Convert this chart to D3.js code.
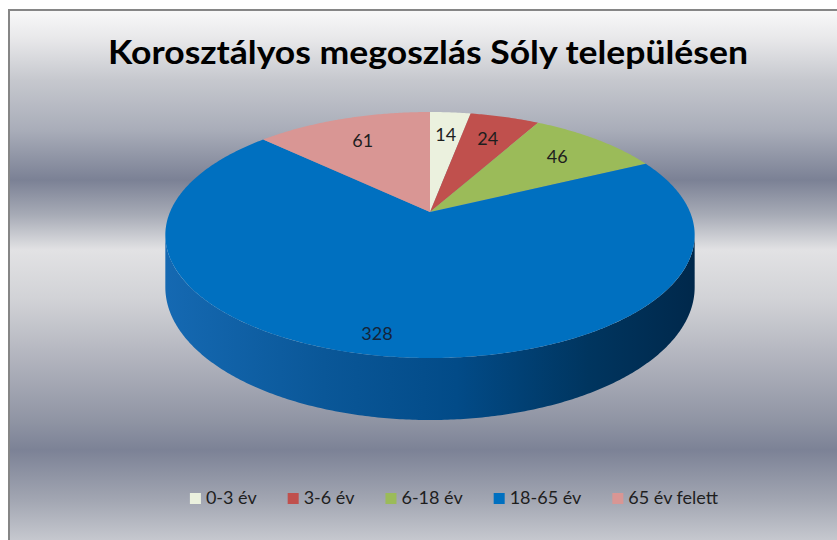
<!DOCTYPE html>
<html>
<head>
<meta charset="utf-8">
<script src="https://cdn.jsdelivr.net/npm/d3@7"></script>
<style>
  html, body { margin: 0; padding: 0; background: #fff; }
  svg { display: block; }
</style>
</head>
<body>
<div class="chart"></div>
<script>
// data
const categories = ['0-3 év', '3-6 év', '6-18 év', '18-65 év', '65 év felett'];
const values = [14, 24, 46, 328, 61];
const colors = ['#EBF1DE', '#C0504D', '#9BBB59', '#0070C0', '#D99694'];
const title = 'Korosztályos megoszlás Sóly településen';

const W = 837, H = 540;
const svg = d3.select('.chart').append('svg')
    .attr('width', W)
    .attr('height', H);

const defs = svg.append('defs');

// silver background, horizontal bands
const bg = defs.append('linearGradient')
    .attr('id', 'bg')
    .attr('gradientUnits', 'userSpaceOnUse')
    .attr('x1', 0).attr('y1', 10).attr('x2', 0).attr('y2', 545);
[[10, '#f9f9f9'], [40, '#e7e7e9'], [80, '#c6c8ce'], [130, '#a9adb9'], [180, '#7b8195'],
 [215, '#a7abb6'], [250, '#e2e2e4'], [300, '#d1d2d6'], [350, '#b6b8c1'], [420, '#9095a4'],
 [450, '#7c8296'], [500, '#a2a6b2'], [545, '#caccd2']]
    .forEach(([y, c]) => bg.append('stop').attr('offset', (y - 10) / 535).attr('stop-color', c));

// side wall shading, light on the left, dark on the right
const side = defs.append('linearGradient')
    .attr('id', 'side')
    .attr('gradientUnits', 'userSpaceOnUse')
    .attr('x1', 165).attr('y1', 0).attr('x2', 695).attr('y2', 0);
[[0, '#1569b2'], [0.3, '#0a5798'], [0.55, '#024b88'], [0.8, '#00355f'], [1, '#00284b']]
    .forEach(([o, c]) => side.append('stop').attr('offset', o).attr('stop-color', c));

svg.append('rect')
    .attr('x', 9).attr('y', 10)
    .attr('width', W + 10).attr('height', H + 10)
    .attr('fill', 'url(#bg)')
    .attr('stroke', '#868686')
    .attr('stroke-width', 2);

svg.append('text')
    .attr('x', 428).attr('y', 64)
    .attr('text-anchor', 'middle')
    .attr('font-family', 'Lato, "Open Sans", sans-serif')
    .attr('font-weight', 'bold')
    .attr('font-size', 33)
    .attr('textLength', 640)
    .attr('lengthAdjust', 'spacingAndGlyphs')
    .attr('fill', '#000')
    .text(title);

// perspective projection of the pie disc
const cx = 430, cy = 212, A = 260, B = 118.7, k = 0.187, depth = 50.4;
const proj = (theta, r, h) => {
    const u = r * Math.sin(theta), t = r * Math.cos(theta);
    const w = 1 + k * t;
    return [cx + A * u / w, cy + (-B * t + depth * h) / w];
};
const arcPoints = (a0, a1, h) => {
    const n = Math.max(2, Math.ceil(Math.abs(a1 - a0) / 0.01));
    return d3.range(n + 1).map(i => proj(a0 + (a1 - a0) * i / n, 1, h));
};
const line = d3.line();

const pie = d3.pie().sort(null).value(d => d)(values);

// outer wall, only the part that faces the viewer
const wallFrom = Math.PI / 2 + Math.asin(k), wallTo = 3 * Math.PI / 2 - Math.asin(k);
const gWall = svg.append('g');
pie.forEach((p, i) => {
    const a0 = Math.max(p.startAngle, wallFrom), a1 = Math.min(p.endAngle, wallTo);
    if (a1 <= a0) return;
    const pts = arcPoints(a0, a1, 0).concat(arcPoints(a1, a0, 1));
    gWall.append('path')
        .attr('d', line(pts) + 'Z')
        .attr('fill', i === 3 ? 'url(#side)' : d3.color(colors[i]).darker(0.8));
});

// top face
svg.append('g')
    .selectAll('path')
    .data(pie)
    .join('path')
    .attr('d', p => line([proj(0, 0, 0)].concat(arcPoints(p.startAngle, p.endAngle, 0))) + 'Z')
    .attr('fill', (p, i) => colors[i]);

// data labels
svg.append('g')
    .selectAll('text')
    .data(pie)
    .join('text')
    .attr('transform', p => {
        const mid = (p.startAngle + p.endAngle) / 2;
        const f = p.endAngle - p.startAngle > Math.PI ? 0.87 : 0.74;
        const [x, y] = proj(mid, f, 0);
        return `translate(${x - (f > 0.8 ? 12 : 0)},${y})`;
    })
    .attr('text-anchor', 'middle')
    .attr('dy', '0.35em')
    .attr('font-family', 'Lato, "Open Sans", sans-serif')
    .attr('font-size', 18)
    .attr('fill', (p, i) => i === 3 ? '#14243a' : '#1e1e1e')
    .text(p => p.data);

// legend
const legend = svg.append('g');
let lx = 0;
categories.forEach((c, i) => {
    const item = legend.append('g').attr('transform', `translate(${lx},0)`);
    item.append('rect')
        .attr('x', 0).attr('y', -11)
        .attr('width', 11).attr('height', 11)
        .attr('fill', colors[i]);
    const t = item.append('text')
        .attr('x', 16).attr('y', 0)
        .attr('font-family', 'Lato, "Open Sans", sans-serif')
        .attr('font-size', 18)
        .attr('fill', '#1e1e1e')
        .text(c);
    lx += 16 + t.node().getComputedTextLength() + 31;
});
const legendW = lx - 31;
legend.attr('transform', `translate(${454 - legendW / 2},504)`);
</script>
</body>
</html>
